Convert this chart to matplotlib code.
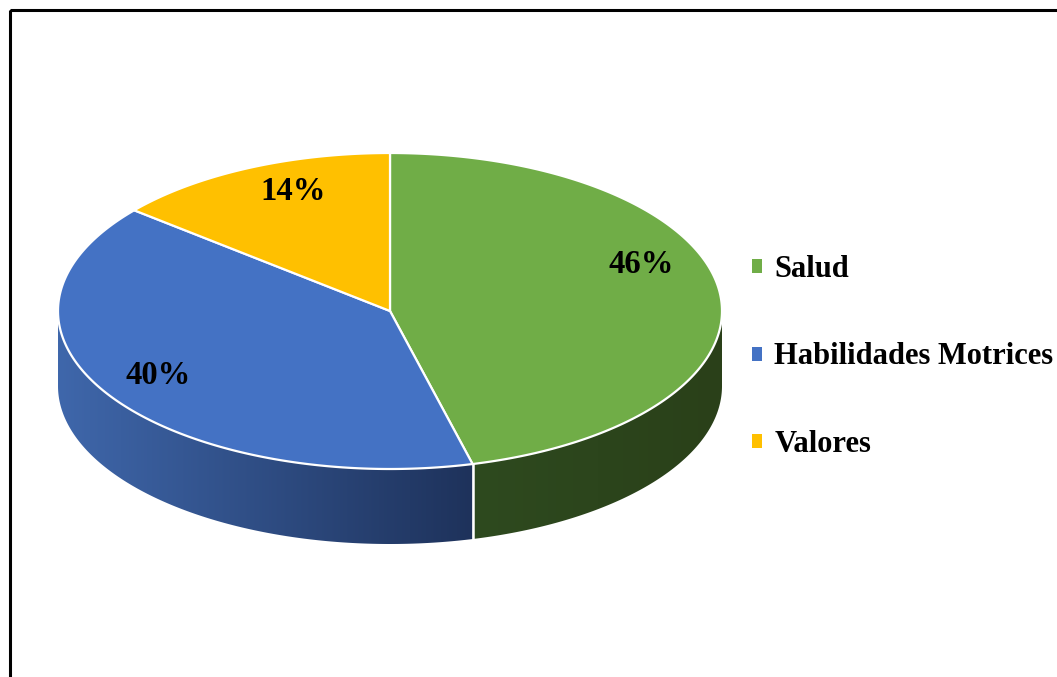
import numpy as np
import matplotlib.pyplot as plt
from matplotlib.patches import Polygon, Rectangle, Patch
from matplotlib.colors import LinearSegmentedColormap

# estilo: Times New Roman -> Liberation Serif
plt.rcParams['font.family'] = ['Liberation Serif', 'DejaVu Serif']

# datos
categorias = ['Salud', 'Habilidades Motrices', 'Valores']
porcentajes = [46, 40, 14]
colores = ['#70ad47', '#4472c4', '#ffc000']
# color lateral (izq -> der) para cada sector
lateral = [('#2e4a1f', '#2a4019'), ('#3f67ab', '#1e325b'), ('#a07a00', '#7a5c00')]
ajuste_etiqueta = [14, -2, -4]   # grados, Excel mueve un poco las etiquetas

# geometria del pastel (en pixeles)
cx, cy = 390, 311
rx, ry = 332, 158
prof = 75

fig = plt.figure(figsize=(10.57, 6.77), dpi=100)
ax = fig.add_axes([0, 0, 1, 1])
ax.set_xlim(0, 1057)
ax.set_ylim(677, 0)
ax.axis('off')

# marco
ax.add_patch(Rectangle((10, 10), 1100, 720, fill=False, ec='black', lw=2.2, zorder=0))


def punto(t, dy=0):
    t = np.radians(t)
    return cx + rx * np.cos(t), cy - ry * np.sin(t) + dy


# angulos de los sectores (sentido horario desde arriba)
total = sum(porcentajes)
bordes = [90.0]
for p in porcentajes:
    bordes.append(bordes[-1] - 360.0 * p / total)

grad = np.linspace(0, 1, 256).reshape(1, -1)

# paredes laterales (solo la mitad frontal, t entre -180 y 0)
for i in range(len(porcentajes)):
    a, b = bordes[i + 1], bordes[i]
    for off in (0, -360, 360):
        lo, hi = max(a + off, -180), min(b + off, 0)
        if lo < hi:
            t = np.linspace(lo, hi, 200)
            sup = [punto(tt) for tt in t]
            inf = [punto(tt, prof) for tt in t[::-1]]
            poly = Polygon(sup + inf, closed=True, fc='none', ec='none')
            ax.add_patch(poly)
            xs = [q[0] for q in sup]
            cmap = LinearSegmentedColormap.from_list('g%d' % i, lateral[i])
            im = ax.imshow(grad, cmap=cmap, aspect='auto',
                           extent=(min(xs), max(xs), cy + ry + prof + 5, cy - 5),
                           zorder=1)
            im.set_clip_path(poly)

# lineas blancas verticales en las uniones visibles
for t in bordes[1:-1]:
    tn = ((t + 180) % 360) - 180
    if -180 < tn < 0:
        x0, y0 = punto(tn)
        ax.plot([x0, x0], [y0, y0 + prof], color='white', lw=1.8, zorder=2)

# tapa superior
for i in range(len(porcentajes)):
    t = np.linspace(bordes[i + 1], bordes[i], 300)
    pts = [(cx, cy)] + [punto(tt) for tt in t]
    ax.add_patch(Polygon(pts, closed=True, fc=colores[i], ec='white', lw=1.6,
                         joinstyle='miter', zorder=3))

# etiquetas de porcentaje
for i, p in enumerate(porcentajes):
    mid = (bordes[i] + bordes[i + 1]) / 2 + ajuste_etiqueta[i]
    t = np.radians(mid)
    x = cx + 0.81 * rx * np.cos(t)
    y = cy - 0.81 * ry * np.sin(t)
    ax.text(x, y, f'{p}%', ha='center', va='center', fontsize=23.5,
            fontweight='bold', color='black', zorder=4)

# leyenda
handles = [Patch(fc=c, ec='none') for c in colores]
leg = ax.legend(handles, categorias, loc='center left',
                bbox_to_anchor=(752 / 1057, 1 - 357 / 677),
                frameon=False, prop={'size': 22, 'weight': 'bold'},
                handlelength=0.33, handleheight=0.33, handletextpad=0.4,
                labelspacing=1.9, borderpad=0, borderaxespad=0)

fig.savefig('out.png', dpi=100)
